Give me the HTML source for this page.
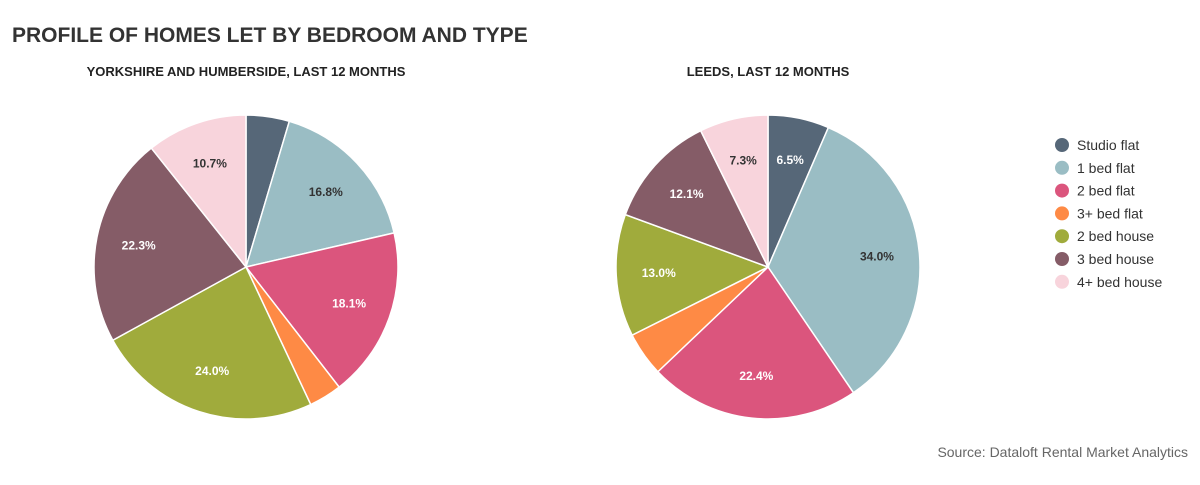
<!DOCTYPE html>
<html><head><meta charset="utf-8"><style>
body{margin:0;background:#fff;font-family:"Liberation Sans",Arial,sans-serif}
svg text{font-family:"Liberation Sans",Arial,sans-serif}
</style></head><body>
<svg id="chart" width="1200" height="480">
<text x="12" y="42" font-size="21" font-weight="bold" fill="#333">PROFILE OF HOMES LET BY BEDROOM AND TYPE</text>
<text x="246" y="76" font-size="13" font-weight="bold" fill="#222" text-anchor="middle">YORKSHIRE AND HUMBERSIDE, LAST 12 MONTHS</text>
<text x="768" y="76" font-size="13" font-weight="bold" fill="#222" text-anchor="middle">LEEDS, LAST 12 MONTHS</text>
<g id="pies"></g>
<g id="legend"></g>
<text x="1188" y="457" font-size="14" fill="#666" text-anchor="end">Source: Dataloft Rental Market Analytics</text>
</svg>
<script>
const categories=["Studio flat","1 bed flat","2 bed flat","3+ bed flat","2 bed house","3 bed house","4+ bed house"];
const colors=["#566778","#9abdc4","#db557d","#fe8a45","#a0ab3c","#855c67","#f8d4dc"];
const yorkshireValues=[4.6,16.8,18.1,3.5,24.0,22.3,10.7];
const leedsValues=[6.5,34.0,22.4,4.7,13.0,12.1,7.3];
const labelColors=["#fff","#333","#fff","#fff","#fff","#fff","#333"];
const NS="http://www.w3.org/2000/svg";
const pies=document.getElementById('pies');
function drawPie(vals,cx,cy,r,name){
  const total=vals.reduce((a,b)=>a+b,0);
  let a0=0;
  vals.forEach((v,i)=>{
    const a1=a0+v/total*2*Math.PI;
    const p=(a)=>[cx+r*Math.sin(a),cy-r*Math.cos(a)];
    const [x0,y0]=p(a0),[x1,y1]=p(a1);
    const path=document.createElementNS(NS,'path');
    path.setAttribute('d',`M${cx},${cy}L${x0},${y0}A${r},${r} 0 ${a1-a0>Math.PI?1:0} 1 ${x1},${y1}Z`);
    path.setAttribute('fill',colors[i]);
    path.setAttribute('stroke','#fff');
    path.setAttribute('stroke-width','1.5');
    
    
    pies.appendChild(path);
    if(v>=5){
      const am=(a0+a1)/2;
      const t=document.createElementNS(NS,'text');
      t.setAttribute('x',cx+r*0.72*Math.sin(am));
      t.setAttribute('y',cy-r*0.72*Math.cos(am)+4);
      t.setAttribute('text-anchor','middle');
      t.setAttribute('font-size','12');
      t.setAttribute('font-weight','bold');
      t.setAttribute('fill',labelColors[i]);
      t.textContent=v.toFixed(1)+'%';
      
      
      pies.appendChild(t);
    }
    a0=a1;
  });
}
drawPie(yorkshireValues,246,267,152,'yorkshire');
drawPie(leedsValues,768,267,152,'leeds');
const lg=document.getElementById('legend');
categories.forEach((c,i)=>{
  const y=145+i*22.8;
  const g=document.createElementNS(NS,'g');
  
  
  const ci=document.createElementNS(NS,'circle');
  ci.setAttribute('cx',1062);ci.setAttribute('cy',y);ci.setAttribute('r',7);ci.setAttribute('fill',colors[i]);
  const t=document.createElementNS(NS,'text');
  t.setAttribute('x',1077);t.setAttribute('y',y+5);t.setAttribute('font-size','14');t.setAttribute('fill','#333');
  t.textContent=c;
  g.appendChild(ci);g.appendChild(t);lg.appendChild(g);
});
</script>
</body></html>
